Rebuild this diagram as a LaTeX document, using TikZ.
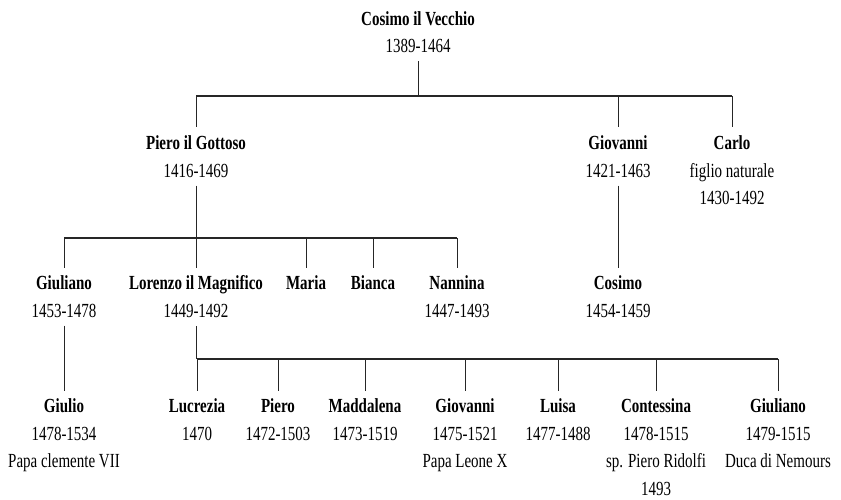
\documentclass[tikz,border=0pt]{standalone}
\usepackage{fontspec}
\setmainfont[FakeStretch=0.75]{Liberation Serif}
\tikzset{
  person/.style={align=center,anchor=north,inner xsep=0pt,inner ysep=8pt,
    font=\fontsize{20}{27.7}\selectfont},
  link/.style={line width=0.7pt,draw=black!85},
  bar/.style={line width=1.1pt,draw=black!85}
}
\begin{document}
\begin{tikzpicture}[x=1pt,y=-1pt]
	\useasboundingbox (0,0) rectangle (841,500);
	\node[person] (cosimoV) at (418,3) {\textbf{Cosimo il Vecchio}\\1389-1464};
	\node[person] (pieroG) at (196,127.5) {\textbf{Piero il Gottoso}\\1416-1469};
	\node[person] (giovanni) at (618,127.5) {\textbf{Giovanni}\\1421-1463};
	\node[person] (carlo) at (732,127.5) {\textbf{Carlo}\\figlio naturale\\1430-1492};
	\node[person] (giuliano) at (64,267.5) {\textbf{Giuliano}\\1453-1478};
	\node[person] (lorenzo) at (196,267.5) {\textbf{Lorenzo il Magnifico}\\1449-1492};
	\node[person] (maria) at (306,267.5) {\textbf{Maria}};
	\node[person] (bianca) at (373,267.5) {\textbf{Bianca}};
	\node[person] (nannina) at (457,267.5) {\textbf{Nannina}\\1447-1493};
	\node[person] (cosimoJ) at (618,267.5) {\textbf{Cosimo}\\1454-1459};
	\node[person] (giulio) at (64,390.5) {\textbf{Giulio}\\1478-1534\\Papa clemente VII};
	\node[person] (lucrezia) at (197,390.5) {\textbf{Lucrezia}\\1470};
	\node[person] (pieroL) at (278,390.5) {\textbf{Piero}\\1472-1503};
	\node[person] (maddalena) at (365,390.5) {\textbf{Maddalena}\\1473-1519};
	\node[person] (giovanniL) at (465,390.5) {\textbf{Giovanni}\\1475-1521\\Papa Leone X};
	\node[person] (luisa) at (558,390.5) {\textbf{Luisa}\\1477-1488};
	\node[person] (contessina) at (656,390.5) {\textbf{Contessina}\\1478-1515\\sp. Piero Ridolfi\\1493};
	\node[person] (giulianoL) at (778,390.5) {\textbf{Giuliano}\\1479-1515\\Duca di Nemours};
	\coordinate (bar1) at (0,96);
	\coordinate (bar2) at (0,238);
	\coordinate (bar3) at (0,359);
	\draw[link] (cosimoV.south) -- (cosimoV.south |- bar1);
	\draw[bar] (pieroG |- bar1) -- (carlo |- bar1);
	\foreach \n in {pieroG,giovanni,carlo} \draw[link] (\n |- bar1) -- (\n.north);
	\draw[link] (pieroG.south) -- (pieroG.south |- bar2);
	\draw[bar] (giuliano |- bar2) -- (nannina |- bar2);
	\foreach \n in {giuliano,lorenzo,maria,bianca,nannina} \draw[link] (\n |- bar2) -- (\n.north);
	\draw[link] (giovanni.south) -- (cosimoJ.north);
	\draw[link] (giuliano.south) -- (giulio.north);
	\draw[link] (lorenzo.south) -- (lorenzo.south |- bar3);
	\draw[bar] (lucrezia |- bar3) -- (giulianoL |- bar3);
	\foreach \n in {lucrezia,pieroL,maddalena,giovanniL,luisa,contessina,giulianoL} \draw[link] (\n |- bar3) -- (\n.north);
\end{tikzpicture}
\end{document}
